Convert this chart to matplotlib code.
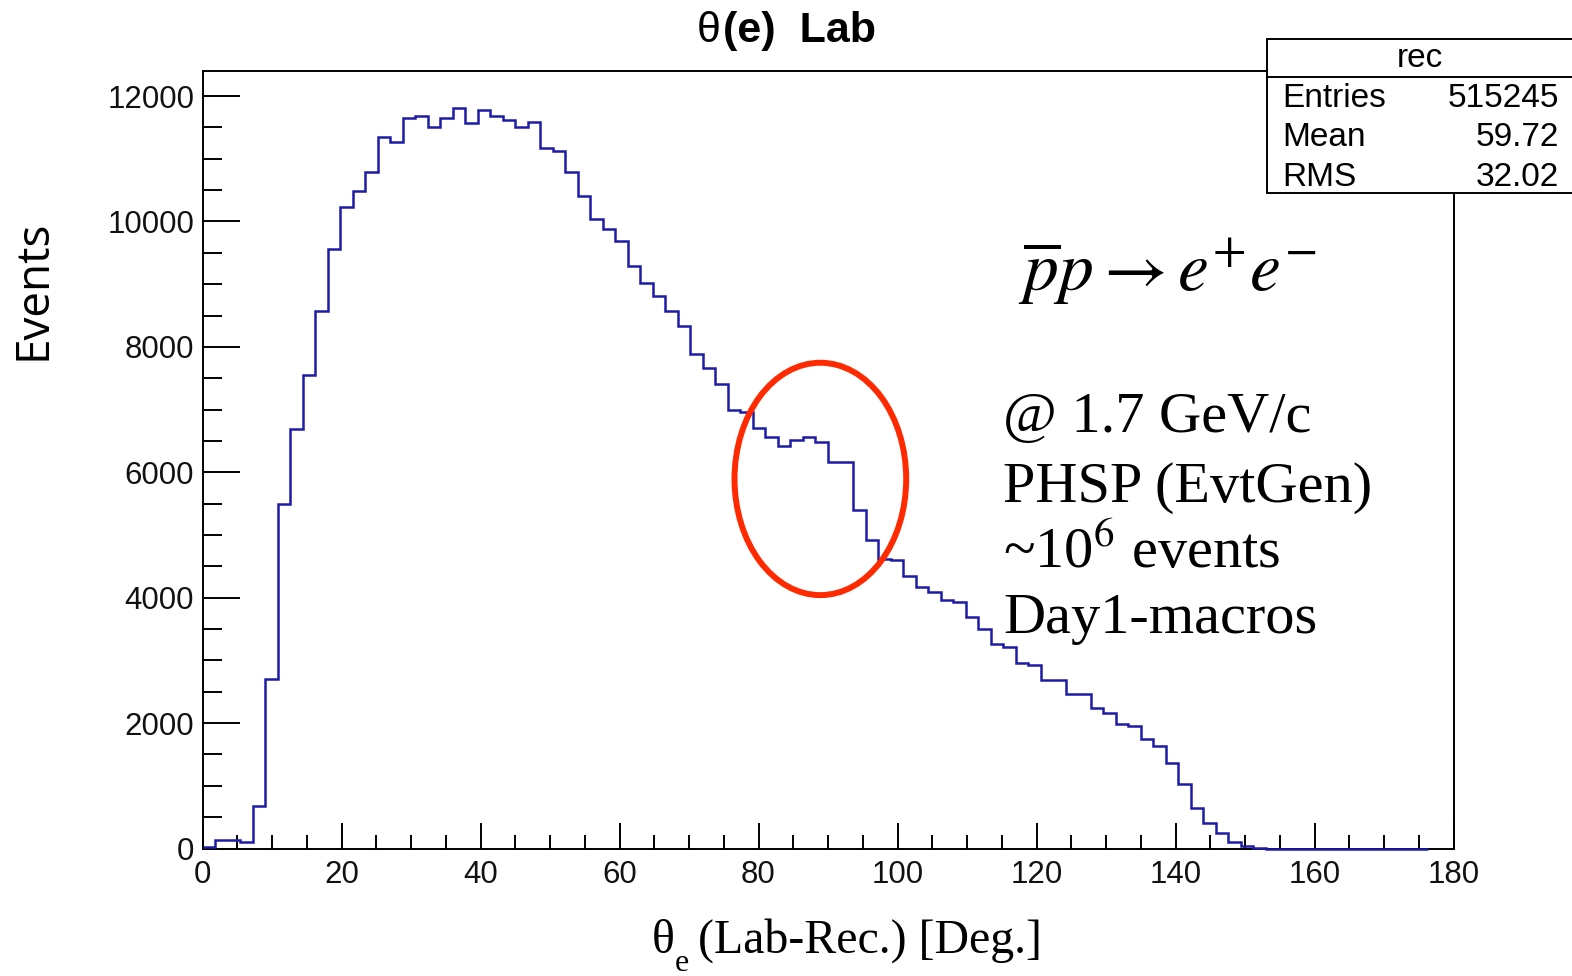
import numpy as np
import matplotlib
matplotlib.use("Agg")
import matplotlib.pyplot as plt
from matplotlib.patches import Ellipse, Rectangle
from matplotlib.ticker import MultipleLocator

plt.rcParams['mathtext.fontset'] = 'stix'

# ---- data (bin contents, 1.8 deg bins) ----
bin_width = 1.8
counts = [
    20, 136, 136, 104, 672, 2700, 5490, 6690, 7545, 8575,
    9555, 10225, 10487, 10790, 11350, 11270, 11653, 11690, 11503, 11658,
    11802, 11567, 11775, 11690, 11626, 11503, 11594, 11174, 11120, 10790,
    10400, 10040, 9885, 9683, 9283, 9018, 8805, 8565, 8336, 7889,
    7670, 7405, 6995, 6968, 6702, 6568, 6420, 6516, 6568, 6479,
    6170, 6170, 5398, 4919, 4615, 4600, 4350, 4173, 4093, 3960,
    3933, 3694, 3508, 3269, 3215, 2960, 2923, 2683, 2683, 2470,
    2470, 2247, 2167, 1991, 1948, 1752, 1630, 1360, 1033, 640,
    400, 240, 100, 37, 15, 0, 0, 0, 0, 0,
    0, 0, 0, 0, 0, 0, 0, 0,
]
x_major_ticks = [0, 20, 40, 60, 80, 100, 120, 140, 160, 180]
y_major_ticks = [0, 2000, 4000, 6000, 8000, 10000, 12000]
stats_labels = ["Entries", "Mean", "RMS"]
stats_values = ["515245", "59.72", "32.02"]
stats_name = "rec"
info_lines = ["@ 1.7 GeV/c", "PHSP (EvtGen)", "~10$^6$ events", "Day1-macros"]

W, H = 1572, 976
fig = plt.figure(figsize=(W / 100, H / 100), dpi=100)
L, R, B, T = 202.5, 1453.5, 848.5, 71
ax = fig.add_axes([L / W, 1 - B / H, (R - L) / W, (B - T) / H])

edges = np.arange(len(counts) + 1) * bin_width
ax.stairs(counts, edges, color='#1c1ca6', lw=1.8, baseline=None, clip_on=False, zorder=3)

ax.set_xlim(0, 180)
ax.set_ylim(0, 12400)
ax.set_xticks(x_major_ticks)
ax.set_yticks(y_major_ticks)
ax.xaxis.set_minor_locator(MultipleLocator(5))
ax.yaxis.set_minor_locator(MultipleLocator(500))
for s in ax.spines.values():
    s.set_linewidth(1.4)
    s.set_zorder(2)
ax.tick_params(axis='x', which='major', direction='in', length=18.5, width=1.4, pad=8, labelsize=22.5)
ax.tick_params(axis='x', which='minor', direction='in', length=10, width=1.4)
ax.tick_params(axis='y', which='major', direction='in', length=26.5, width=1.4, pad=6, labelsize=22.5)
ax.tick_params(axis='y', which='minor', direction='in', length=13.5, width=1.4)
for lab in ax.get_xticklabels() + ax.get_yticklabels():
    lab.set_fontfamily('Liberation Sans')
    lab.set_color('#111111')

# red ellipse highlighting the dip
ell = Ellipse((88.9, 5894), 24.7, 3706, fill=False, ec='#ff2a00', lw=4.3, clip_on=False, zorder=5)
ax.add_patch(ell)

# title
ty = 1 - 41.7 / H
fig.text(721 / W, ty, "θ", ha='right', va='baseline', fontsize=31, family='Liberation Sans')
fig.text(723 / W, ty, "(e)  Lab", ha='left', va='baseline', fontsize=31, family='Liberation Sans', fontweight='bold')

# axis labels (x label built from pieces to get a low subscript)
xb = 1 - 953 / H
fig.text(652 / W, xb, "θ", ha='left', va='baseline', fontsize=34.5, family='Liberation Serif')
fig.text(675 / W, 1 - 971 / H, "e", ha='left', va='baseline', fontsize=23, family='Liberation Serif')
fig.text(698 / W, xb, "(Lab-Rec.) [Deg.]", ha='left', va='baseline', fontsize=34.5, family='Liberation Serif')
fig.text(33 / W, 1 - 290 / H, "Events", rotation=90, ha='center', va='center', fontsize=33, family='Open Sans')

# reaction and info text
fig.text(1018 / W, 1 - 291 / H, r"$\overline{p}p \rightarrow e^{+}e^{-}$", ha='left', va='baseline', fontsize=50)
baselines = [432, 502, 568, 633]
for txt, yb in zip(info_lines, baselines):
    fig.text(1003 / W, 1 - yb / H, txt, ha='left', va='baseline', fontsize=42, family='Liberation Serif')

# stats box
bl, bt, bh, bb = 1267, 39, 76.7, 192.7
rect = Rectangle((bl / W, 1 - bb / H), (W + 20 - bl) / W, (bb - bt) / H, transform=fig.transFigure,
                 fc='white', ec='black', lw=1.4, zorder=10, clip_on=False)
fig.add_artist(rect)
fig.add_artist(plt.Line2D([bl / W, 1.01], [1 - bh / H, 1 - bh / H], transform=fig.transFigure,
                          color='black', lw=1.4, zorder=11))
fig.text(1420 / W, 1 - 67 / H, stats_name, ha='center', va='baseline', fontsize=24,
         family='Liberation Sans', zorder=12)
row_base = [107, 146.5, 186]
for lab, val, yb in zip(stats_labels, stats_values, row_base):
    fig.text(1282 / W, 1 - yb / H, lab, ha='left', va='baseline', fontsize=24, family='Liberation Sans', zorder=12)
    fig.text(1559 / W, 1 - yb / H, val, ha='right', va='baseline', fontsize=24, family='Liberation Sans', zorder=12)

fig.savefig("out.png", dpi=100)
